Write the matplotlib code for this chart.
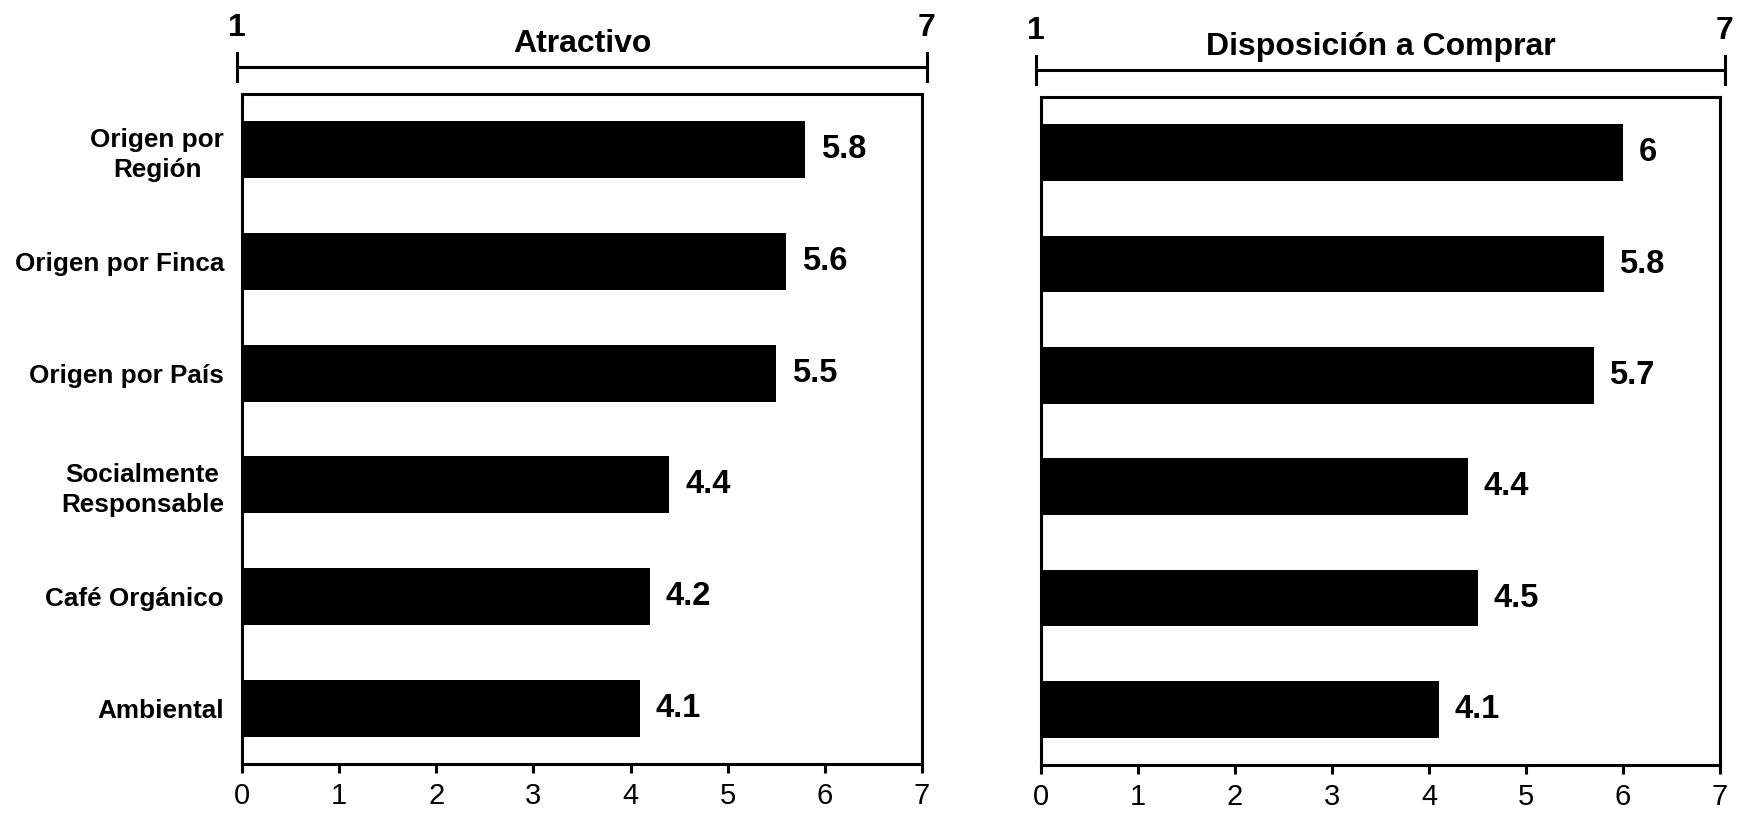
import matplotlib.pyplot as plt
import matplotlib.transforms as mtransforms

plt.rcParams['font.family'] = ['Liberation Sans', 'DejaVu Sans']

categories = ['Origen por\nRegión', 'Origen por Finca', 'Origen por País',
              'Socialmente\nResponsable', 'Café Orgánico', 'Ambiental']
atractivo = [5.8, 5.6, 5.5, 4.4, 4.2, 4.1]
disposicion = [6, 5.8, 5.7, 4.4, 4.5, 4.1]
value_labels_left = ['5.8', '5.6', '5.5', '4.4', '4.2', '4.1']
value_labels_right = ['6', '5.8', '5.7', '4.4', '4.5', '4.1']
titles = ['Atractivo', 'Disposición a Comprar']
xticks = [0, 1, 2, 3, 4, 5, 6, 7]

fig = plt.figure(figsize=(17.4, 8.16), dpi=100)
ax1 = fig.add_axes([0.1391, 0.0637, 0.3908, 0.8211])
ax2 = fig.add_axes([0.5983, 0.0625, 0.3902, 0.8186])

panels = [(ax1, atractivo, value_labels_left, titles[0], 0.918, True),
          (ax2, disposicion, value_labels_right, titles[1], 0.914, False)]

for ax, vals, labs, title, ybr, show_cats in panels:
    y = list(range(len(categories)))
    ax.barh(y, vals, height=0.51, color='black')
    ax.set_xlim(0, 7)
    ax.set_ylim(len(categories) - 0.5, -0.5)
    ax.set_xticks(xticks)
    ax.set_xticklabels([str(t) for t in xticks], fontsize=21)
    ax.tick_params(axis='x', direction='out', length=6.5, width=2.2, pad=6.5)
    ax.set_yticks(y)
    if show_cats:
        ax.set_yticklabels(categories, fontsize=18.8, fontweight='bold',
                           multialignment='center', linespacing=1.3)
        ax.tick_params(axis='y', length=0, pad=13)
    else:
        ax.set_yticklabels([])
        ax.tick_params(axis='y', length=0)
    for s in ax.spines.values():
        s.set_linewidth(2.2)
    for yi, v, t in zip(y, vals, labs):
        ax.text(v + 0.16, yi, t, va='center', ha='left', fontsize=23.5,
                fontweight='bold')

    # scale bracket 1..7 above the panel
    tr = mtransforms.blended_transform_factory(ax.transData, fig.transFigure)
    x0, x1 = -0.05, 7.05
    fig.add_artist(plt.Line2D([x0, x1], [ybr, ybr], color='black', lw=2.2,
                              transform=tr))
    for xe in (x0, x1):
        fig.add_artist(plt.Line2D([xe, xe], [ybr - 0.017, ybr + 0.017],
                                  color='black', lw=2.2, transform=tr))
    fig.text(x0, ybr + 0.048, '1', transform=tr, ha='center', va='center',
             fontsize=23, fontweight='bold')
    fig.text(x1, ybr + 0.048, '7', transform=tr, ha='center', va='center',
             fontsize=23, fontweight='bold')
    fig.text(3.5, ybr + 0.028, title, transform=tr, ha='center', va='center',
             fontsize=23, fontweight='bold')

fig.savefig('out.png', dpi=100)
